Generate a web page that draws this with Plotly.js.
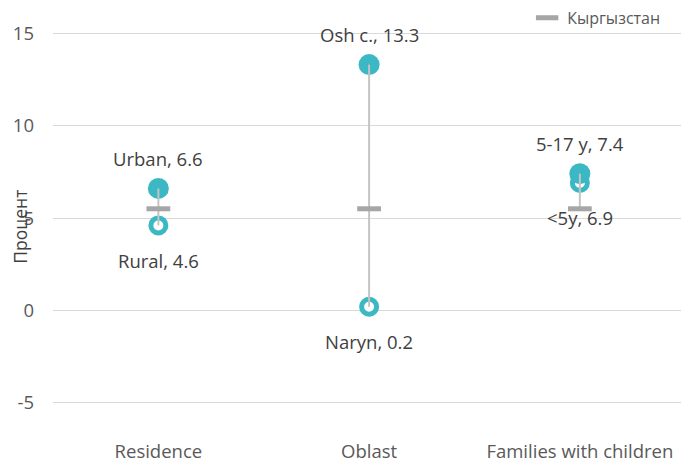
<!DOCTYPE html>
<html>
<head>
<meta charset="utf-8">
<script src="https://cdn.plot.ly/plotly-3.0.1.min.js"></script>
<style>html,body{margin:0;padding:0;background:#fff;}#chart{width:681px;height:461px;}</style>
</head>
<body>
<div id="chart"></div>
<script>
const categories = ["Residence", "Oblast", "Families with children"];
const highNames = ["Urban", "Osh c.", "5-17 y"];
const highValues = [6.6, 13.3, 7.4];
const lowNames = ["Rural", "Naryn", "<5y"];
const lowValues = [4.6, 0.2, 6.9];
const nationalName = "Кыргызстан";
const nationalValues = [5.5, 5.5, 5.5];
const yTicks = [-5, 0, 5, 10, 15];
const yTitle = "Процент";

const teal = "#3bb8c4";
const gray = "#a6a6a6";
const textColor = "#404040";
const font = "Open Sans, sans-serif";

// range lines (min to max of the three values per category)
const lx = [], ly = [];
categories.forEach((c, i) => {
  const vals = [highValues[i], lowValues[i], nationalValues[i]];
  lx.push(c, c, null);
  ly.push(Math.min(...vals), Math.max(...vals), null);
});

const traces = [
  {x: categories, y: lowValues, type: "scatter", mode: "markers", showlegend: false, hoverinfo: "skip",
   marker: {size: 15, color: "#ffffff", line: {color: teal, width: 5}}},
  {x: categories, y: highValues, type: "scatter", mode: "markers", showlegend: false, hoverinfo: "skip",
   marker: {size: 21, color: teal, line: {width: 0}}},
  {x: lx, y: ly, type: "scatter", mode: "lines", showlegend: false, hoverinfo: "skip",
   line: {color: "#c4c4c4", width: 2}},
  {x: categories, y: nationalValues, type: "scatter", mode: "markers", name: nationalName,
   marker: {symbol: "line-ew", size: 17, color: gray, line: {color: gray, width: 5}}}
];

const annotations = [];
categories.forEach((c, i) => {
  annotations.push({x: c, y: highValues[i], text: highNames[i] + ", " + highValues[i], showarrow: false,
    yshift: 30, font: {family: font, size: 18.5, color: textColor}});
  annotations.push({x: c, y: lowValues[i], text: lowNames[i] + ", " + lowValues[i], showarrow: false,
    yshift: -35, font: {family: font, size: 18.5, color: textColor}});
});
annotations.push({xref: "paper", yref: "paper", x: -33 / 628, y: 0.495, xanchor: "center", yanchor: "middle",
  text: yTitle, textangle: -90, showarrow: false, font: {family: font, size: 17.5, color: textColor}});

const layout = {
  width: 681, height: 461,
  margin: {l: 53, r: 0, t: 11, b: 23, autoexpand: false},
  paper_bgcolor: "#ffffff", plot_bgcolor: "#ffffff",
  font: {family: font, color: textColor},
  showlegend: true,
  legend: {x: 0.755, xanchor: "left", y: 0.984, yanchor: "middle", font: {family: font, size: 16, color: "#595959"},
    bgcolor: "rgba(0,0,0,0)", itemwidth: 30},
  xaxis: {type: "category", range: [-0.5, 2.48], showgrid: false, zeroline: false, showline: false,
    ticks: "", tickfont: {family: font, size: 18.5, color: "#595959"}},
  yaxis: {range: [-6.9, 16.2], tickvals: yTicks, ticktext: yTicks.map(String), showgrid: true,
    gridcolor: "#d9d9d9", gridwidth: 1, zeroline: true, zerolinecolor: "#d9d9d9", zerolinewidth: 1,
    showline: false, ticks: "", ticklabelstandoff: 18,
    tickfont: {family: font, size: 18.5, color: "#595959"}},
  annotations: annotations
};

Plotly.newPlot("chart", traces, layout, {staticPlot: true, displayModeBar: false});
</script>
</body>
</html>
